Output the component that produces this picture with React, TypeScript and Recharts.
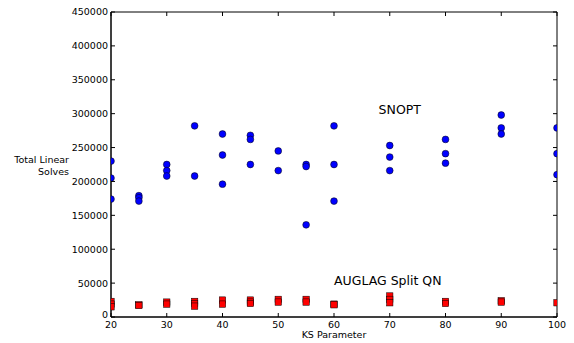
import React from 'react'
import { ScatterChart, Scatter, XAxis, YAxis, ReferenceArea, ReferenceDot, Label } from 'recharts'

// KS parameter sweep: total linear solves per run
const snoptKs = [20, 20, 20, 25, 25, 25, 30, 30, 30, 35, 35, 40, 40, 40, 45, 45, 45, 50, 50, 55, 55, 55, 60, 60, 60, 70, 70, 70, 80, 80, 80, 90, 90, 90, 100, 100, 100]
const snoptSolves = [
  230000, 205000, 174000, 179000, 176000, 171000, 225000, 216000, 208000, 282000, 208000,
  270000, 239000, 196000, 268000, 262000, 225000, 245000, 216000, 225000, 222000, 136000,
  282000, 225000, 171000, 253000, 236000, 216000, 262000, 241000, 227000, 298000, 279000,
  270000, 279000, 241000, 210000,
]
const auglagKs = [20, 20, 20, 25, 25, 30, 30, 35, 35, 35, 40, 40, 45, 45, 45, 50, 50, 55, 55, 60, 60, 70, 70, 70, 80, 80, 90, 90, 100]
const auglagSolves = [
  23000, 19000, 15000, 18000, 17000, 22000, 19000, 23000, 20000, 16000, 25000, 19000, 25000,
  22000, 20000, 26000, 22000, 26000, 22000, 19000, 18000, 31000, 26000, 21000, 23000, 20000,
  24000, 22000, 21000,
]
const xTicks = [20, 30, 40, 50, 60, 70, 80, 90, 100]
const yTicks = [0, 50000, 100000, 150000, 200000, 250000, 300000, 350000, 400000, 450000]
const annotations = [
  { ks: 68, solves: 300000, text: 'SNOPT' },
  { ks: 60, solves: 47000, text: 'AUGLAG Split QN' },
]

const snoptData = snoptKs.map((ks, i) => ({ ks, solves: snoptSolves[i] }))
const auglagData = auglagKs.map((ks, i) => ({ ks, solves: auglagSolves[i] }))

const FONT = '"DejaVu Sans", sans-serif'
const TOP = 12
const BOTTOM = 317
const LEFT = 111
const RIGHT = 557

function XTick({ x, payload }: any) {
  return (
    <g>
      <line x1={x} x2={x} y1={BOTTOM} y2={BOTTOM - 4} stroke="#000" />
      <line x1={x} x2={x} y1={TOP} y2={TOP + 4} stroke="#000" />
      <text x={x} y={BOTTOM + 10.5} textAnchor="middle" fontSize={9.5} fontFamily={FONT} fill="#000">
        {payload.value}
      </text>
    </g>
  )
}

function YTick({ y, payload }: any) {
  // the zero label sits just above the "20" of the x axis
  const dy = payload.value === 0 ? 1.2 : 3.4
  return (
    <g>
      <line x1={LEFT} x2={LEFT + 4} y1={y} y2={y} stroke="#000" />
      <line x1={RIGHT} x2={RIGHT - 4} y1={y} y2={y} stroke="#000" />
      <text x={LEFT - 3} y={y + dy} textAnchor="end" fontSize={9.5} fontFamily={FONT} fill="#000">
        {payload.value}
      </text>
    </g>
  )
}

const circle = (p: any) => (
  <circle cx={p.cx} cy={p.cy} r={3.4} fill="#0000ff" stroke="#000" strokeWidth={0.5} />
)
const square = (p: any) => (
  <rect x={p.cx - 3.2} y={p.cy - 3.2} width={6.4} height={6.4} fill="#ff0000" stroke="#000" strokeWidth={0.5} />
)

export default function App() {
  return (
    <div style={{ position: 'absolute', left: 0, top: 0, width: 574, height: 343, background: '#fff' }}>
      <ScatterChart width={574} height={343} margin={{ top: TOP, right: 574 - RIGHT, bottom: 0, left: 0 }}>
        <XAxis
          dataKey="ks" type="number" domain={[20, 100]} ticks={xTicks} interval={0}
          allowDataOverflow height={343 - BOTTOM} tickSize={0} tickMargin={0}
          tickLine={false} axisLine={{ stroke: '#000' }} tick={<XTick />}
        >
          <Label
            content={({ viewBox }: any) => (
              <text x={viewBox.x + viewBox.width / 2} y={BOTTOM + 21} textAnchor="middle"
                fontSize={9.5} fontFamily={FONT} fill="#000">KS Parameter</text>
            )}
          />
        </XAxis>
        <YAxis
          dataKey="solves" type="number" domain={[0, 450000]} ticks={yTicks} interval={0}
          allowDataOverflow width={LEFT} tickSize={0} tickMargin={0}
          tickLine={false} axisLine={{ stroke: '#000' }} tick={<YTick />}
        >
          <Label
            content={({ viewBox }: any) => {
              const mid = viewBox.y + viewBox.height / 2
              return (
                <text textAnchor="end" fontSize={9.5} fontFamily={FONT} fill="#000">
                  <tspan x={69} y={mid - 1.5}>Total Linear</tspan>
                  <tspan x={69} y={mid + 10}>Solves</tspan>
                </text>
              )
            }}
          />
        </YAxis>
        <Scatter data={snoptData} shape={circle} isAnimationActive={false} />
        <Scatter data={auglagData} shape={square} isAnimationActive={false} />
        {annotations.map((a) => (
          <ReferenceDot
            key={a.text} x={a.ks} y={a.solves} r={1}
            shape={(p: any) => (
              <text x={p.cx} y={p.cy} fontSize={12.5} fontFamily={FONT} fill="#000">{a.text}</text>
            )}
          />
        ))}
        <ReferenceArea x1={20} x2={100} y1={0} y2={450000} fill="none" stroke="#000" strokeWidth={1} />
      </ScatterChart>
    </div>
  )
}
